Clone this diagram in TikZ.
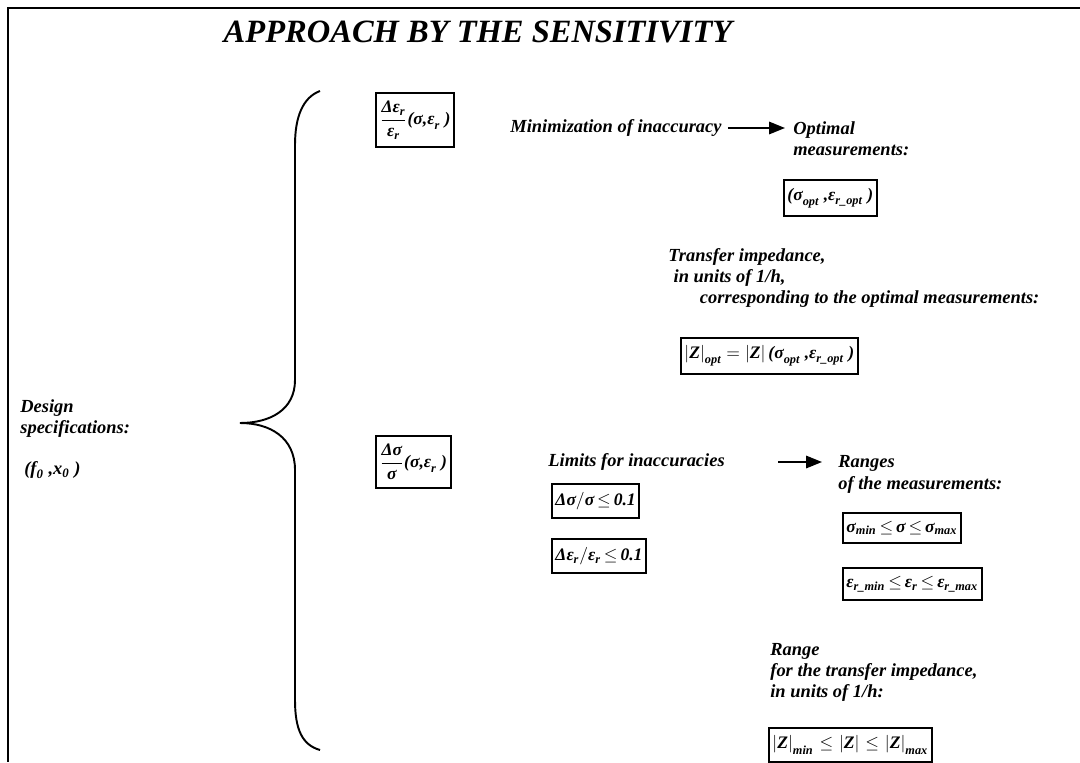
\documentclass[tikz,border=0pt]{standalone}
\usepackage{amsmath}
\usepackage{fontspec}
\setmainfont{Liberation Serif}
\usetikzlibrary{arrows.meta}

\newcommand{\tx}[1]{\text{#1}}
\newcommand{\lesep}{\mskip3mu{\leq}\mskip3mu}

\tikzset{
  txt/.style={font=\bfseries\itshape\fontsize{10.5}{12}\selectfont, anchor=west, inner sep=0pt, align=left},
  eqn/.style={draw, line width=1.1pt, font=\bfseries\itshape\fontsize{10}{11.5}\selectfont, anchor=west, inner xsep=2pt, inner ysep=4.5pt},
  arr/.style={-{Triangle[length=9pt,width=7pt]}, line width=1.1pt}
}

\begin{document}
\begin{tikzpicture}
\useasboundingbox (0,0) rectangle (21.6,-15.24);
\draw[line width=1.6pt] (21.6,-0.16) -- (0.16,-0.16) -- (0.16,-15.24);
\node[font=\bfseries\itshape\fontsize{18.5}{21}\selectfont] (title) at (9.56,-0.64) {APPROACH BY THE SENSITIVITY};

% curly brace
\draw[line width=1.1pt] (6.4,-1.82) .. controls (6.05,-1.95) and (5.9,-2.35) .. (5.9,-2.9)
  -- (5.9,-7.6) .. controls (5.9,-8.2) and (5.4,-8.46) .. (4.8,-8.46)
  .. controls (5.4,-8.46) and (5.9,-8.75) .. (5.9,-9.4)
  -- (5.9,-14.0) .. controls (5.9,-14.6) and (6.05,-14.9) .. (6.4,-15.0);

\node[txt] (design) at (0.4,-8.38) {Design\\specifications:};
\node[txt] (spec) at (0.48,-9.4) {$\tx{(f}_{\tx{0}}\tx{ ,x}_{\tx{0}}\tx{ )}$};

% upper branch
\node[eqn] (deps) at (7.5,-2.4) {$\dfrac{\tx{Δε}_{\tx{r}}}{\tx{ε}_{\tx{r}}}\tx{(σ,ε}_{\tx{r}}\tx{ )}$};
\node[txt] (minim) at (10.2,-2.56) {Minimization of inaccuracy};
\node[txt, anchor=north west] (optim) at (15.86,-2.43) {Optimal\\measurements:};
\node[eqn] (sopt) at (15.66,-3.96) {$\tx{(σ}_{\tx{opt}}\tx{ ,ε}_{\tx{r\_opt}}\tx{ )}$};
\node[txt] (transf) at (13.36,-5.56) {Transfer impedance,\\\hspace*{3pt}in units of 1/h,\\\hspace*{18pt}corresponding to the optimal measurements:};
\node[eqn] (zopt) at (13.6,-7.12) {$\left|\tx{Z}\right|_{\tx{opt}}\mskip2mu{=}\mskip2mu\left|\tx{Z}\right|\tx{(σ}_{\tx{opt}}\tx{ ,ε}_{\tx{r\_opt}}\tx{ )}$};
\draw[arr, shorten <=0.12cm, shorten >=0.16cm] (minim.east) -- (minim.east -| optim.west);

% lower branch
\node[eqn] (dsig) at (7.5,-9.24) {$\dfrac{\tx{Δσ}}{\tx{σ}}\tx{(σ,ε}_{\tx{r}}\tx{ )}$};
\node[txt] (limits) at (10.96,-9.24) {Limits for inaccuracies};
\node[txt, anchor=north west] (ranges) at (16.76,-9.11) {Ranges\\of the measurements:};
\node[eqn] (lim1) at (11.02,-10.02) {$\tx{Δσ}/\tx{σ}\lesep\tx{0.1}$};
\node[eqn] (lim2) at (11.02,-11.12) {$\tx{Δε}_{\tx{r}}/\tx{ε}_{\tx{r}}\lesep\tx{0.1}$};
\node[eqn] (rng1) at (16.84,-10.56) {$\tx{σ}_{\tx{min}}\lesep\tx{σ}\lesep\tx{σ}_{\tx{max}}$};
\node[eqn] (rng2) at (16.84,-11.68) {$\tx{ε}_{\tx{r\_min}}\lesep\tx{ε}_{\tx{r}}\lesep\tx{ε}_{\tx{r\_max}}$};
\node[txt] (range) at (15.4,-13.44) {Range\\for the transfer impedance,\\in units of 1/h:};
\node[eqn] (zrng) at (15.36,-14.9) {$\left|\tx{Z}\right|_{\tx{min}}\lesep\left|\tx{Z}\right|\lesep\left|\tx{Z}\right|_{\tx{max}}$};
\draw[arr, shorten <=1.06cm, shorten >=0.32cm] (limits.east) -- (limits.east -| ranges.west);
\end{tikzpicture}
\end{document}
